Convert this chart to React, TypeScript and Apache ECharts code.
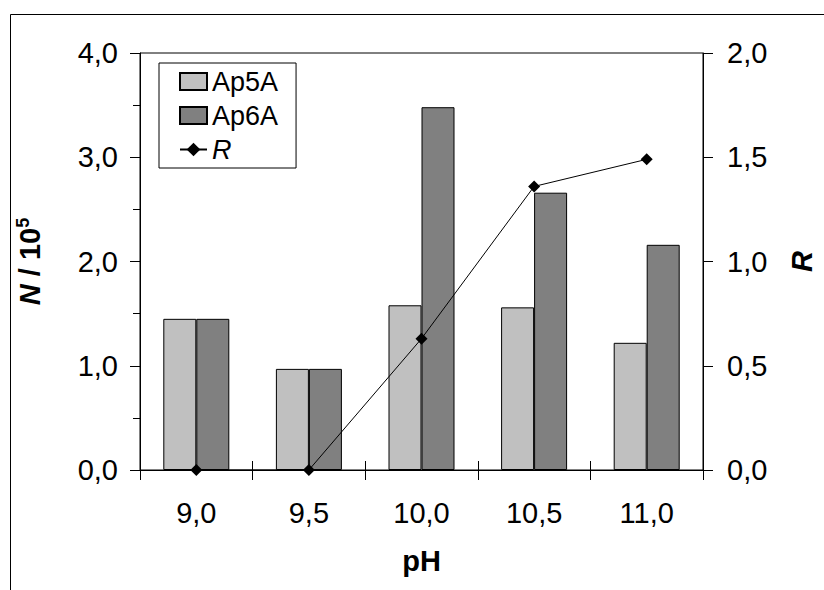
import React, { useEffect, useRef } from "react";
import * as echarts from "echarts";

const categories = ["9,0", "9,5", "10,0", "10,5", "11,0"];
const ap5a = [1.45, 0.97, 1.58, 1.56, 1.22];
const ap6a = [1.45, 0.97, 3.48, 2.66, 2.16];
const rValues = [0, 0, 0.63, 1.36, 1.49];

const FONT = "'Liberation Sans', Arial, sans-serif";
const fmt = (v: number) => v.toFixed(1).replace(".", ",");

export default function App() {
  const ref = useRef<HTMLDivElement>(null);
  useEffect(() => {
    if (!ref.current) return;
    const chart = echarts.init(ref.current, null, { renderer: "svg" });
    chart.setOption({
      animation: false,
      backgroundColor: "#fff",
      textStyle: { fontFamily: FONT, color: "#000" },
      graphic: [
        {
          type: "rect",
          shape: { x: 10.5, y: 14.5, width: 900, height: 700 },
          style: { fill: "none", stroke: "#000", lineWidth: 1 },
          silent: true,
        },
      ],
      grid: {
        left: 140,
        right: 112,
        top: 53,
        bottom: 120,
        show: true,
        borderColor: "#000",
        borderWidth: 1,
      },
      legend: {
        orient: "vertical",
        left: 159,
        top: 63,
        padding: [5, 18, 5, 20],
        itemGap: 7,
        itemWidth: 27,
        itemHeight: 17,
        borderColor: "#000",
        borderWidth: 1,
        backgroundColor: "#fff",
        textStyle: {
          fontFamily: FONT,
          fontSize: 27,
          lineHeight: 27,
          color: "#000",
          rich: { i: { fontStyle: "italic", fontSize: 27, lineHeight: 27, fontFamily: FONT } },
        },
        formatter: (name: string) => (name === "R" ? "{i|R}" : name),
        data: [
          { name: "Ap5A", icon: "rect" },
          { name: "Ap6A", icon: "rect" },
          { name: "R" },
        ],
      },
      xAxis: [
        {
          type: "category",
          data: categories,
          position: "bottom",
          name: "pH",
          nameLocation: "middle",
          nameGap: 76,
          nameTextStyle: { fontFamily: FONT, fontSize: 29, fontWeight: "bold", color: "#000" },
          axisLine: { lineStyle: { color: "#000", width: 1 } },
          axisTick: { show: true, length: 10, lineStyle: { color: "#000" } },
          axisLabel: { fontFamily: FONT, fontSize: 29, color: "#000", margin: 28 },
        },
        {
          type: "category",
          data: categories,
          position: "bottom",
          axisLine: { show: false },
          axisTick: { show: true, inside: true, length: 9, lineStyle: { color: "#000" } },
          axisLabel: { show: false },
        },
      ],
      yAxis: [
        {
          type: "value",
          min: 0,
          max: 4,
          interval: 1,
          position: "left",
          name: "{i|N}{b| / 10}{s|5}",
          nameLocation: "middle",
          nameGap: 94,
          nameRotate: 90,
          nameTextStyle: {
            fontFamily: FONT,
            color: "#000",
            rich: {
              i: { fontFamily: FONT, fontSize: 29, fontWeight: "bold", fontStyle: "italic", color: "#000" },
              b: { fontFamily: FONT, fontSize: 29, fontWeight: "bold", color: "#000" },
              s: { fontFamily: FONT, fontSize: 18, fontWeight: "bold", color: "#000", verticalAlign: "top", padding: [0, 0, 14, 0] },
            },
          },
          axisLine: { show: true, lineStyle: { color: "#000", width: 1 } },
          axisTick: { show: true, length: 10, lineStyle: { color: "#000" } },
          minorTick: { show: true, splitNumber: 2, length: 7, lineStyle: { color: "#000" } },
          splitLine: { show: false },
          axisLabel: { fontFamily: FONT, fontSize: 29, color: "#000", margin: 22, formatter: fmt },
        },
        {
          type: "value",
          min: 0,
          max: 2,
          interval: 0.5,
          position: "right",
          name: "R",
          nameLocation: "middle",
          nameGap: 84,
          nameRotate: 90,
          nameTextStyle: { fontFamily: FONT, fontSize: 29, fontWeight: "bold", fontStyle: "italic", color: "#000" },
          axisLine: { show: true, lineStyle: { color: "#000", width: 1 } },
          axisTick: { show: true, length: 10, lineStyle: { color: "#000" } },
          splitLine: { show: false },
          axisLabel: { fontFamily: FONT, fontSize: 29, color: "#000", margin: 24, formatter: fmt },
        },
      ],
      series: [
        {
          name: "Ap5A",
          type: "bar",
          data: ap5a,
          barWidth: 33,
          barGap: "0%",
          itemStyle: { color: "#c0c0c0", borderColor: "#000", borderWidth: 1 },
        },
        {
          name: "Ap6A",
          type: "bar",
          data: ap6a,
          barWidth: 33,
          barGap: "0%",
          itemStyle: { color: "#808080", borderColor: "#000", borderWidth: 1 },
        },
        {
          name: "R",
          type: "line",
          yAxisIndex: 1,
          data: rValues,
          symbol: "diamond",
          symbolSize: 12,
          lineStyle: { color: "#000", width: 1 },
          itemStyle: { color: "#000" },
          z: 5,
        },
      ],
    });
    return () => chart.dispose();
  }, []);
  return (
    <div
      ref={ref}
      style={{ position: "absolute", left: 0, top: 0, width: 824, height: 590 }}
    />
  );
}
